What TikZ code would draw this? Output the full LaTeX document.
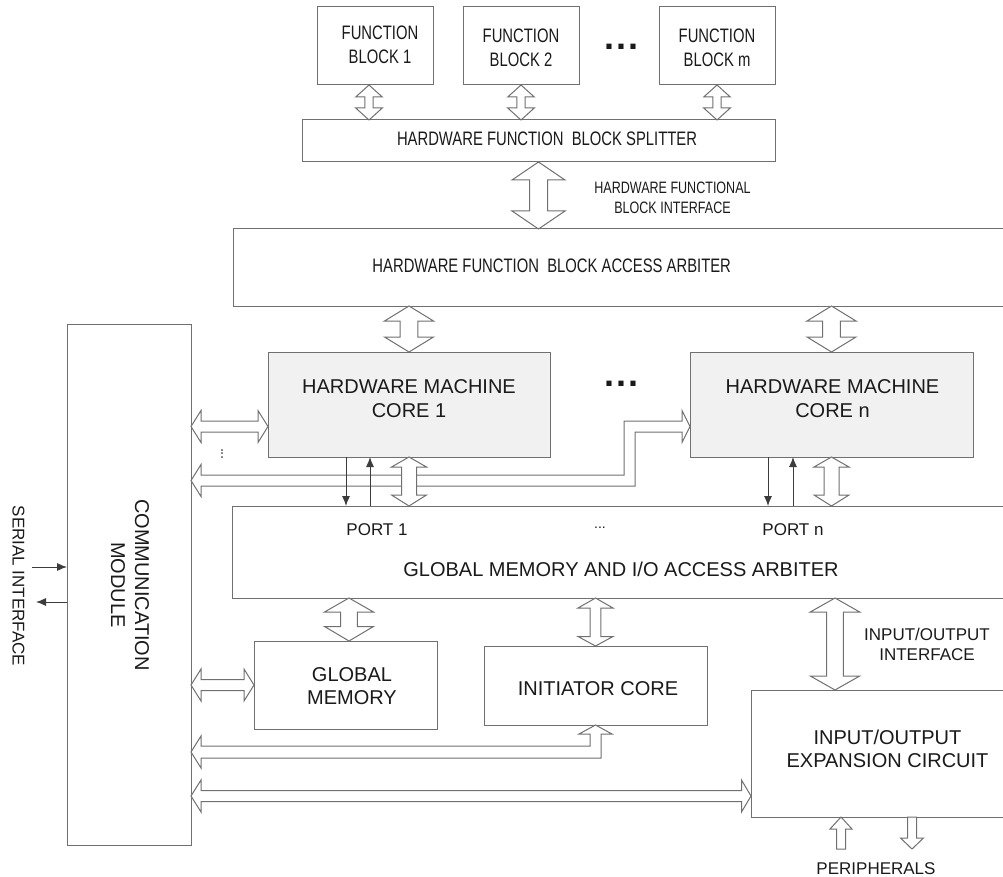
\documentclass[tikz,border=0pt]{standalone}
\usepackage{fontspec}
\setmainfont{Liberation Sans}
\newfontfamily\condfont[FakeStretch=0.76]{Liberation Sans}
\usetikzlibrary{calc,arrows.meta}
\definecolor{edge}{HTML}{707070}
\definecolor{ink}{HTML}{1A1A1A}
\definecolor{corefill}{HTML}{F1F1F1}
\tikzset{
  box/.style={draw=edge, line width=1pt, inner sep=0pt, outer sep=0pt, fill=white},
  corebox/.style={box, fill=corefill},
  txt/.style={inner sep=0pt, text=ink, align=center, font=\fontsize{20}{24.5}\selectfont},
  ctxt/.style={inner sep=0pt, text=ink, align=center, font=\condfont\fontsize{19.5}{24}\selectfont},
  stxt/.style={inner sep=0pt, text=ink, align=center, font=\fontsize{17}{20}\selectfont},
  barrow/.style={draw=edge, line width=1pt, fill=white, line join=miter},
  thinarr/.style={draw=ink!85, line width=0.9pt, -{Latex[length=10pt,width=8pt]}},
}
% vertical double block arrow: #1 top, #2 bottom, #3 head half width, #4 shaft half width, #5 top head length, #6 bottom head length
\newcommand\dvarrow[6]{%
  \draw[barrow] let \p1=(#1), \p2=(#2) in
    (\x1,\y1) -- (\x1+#3pt,\y1-#5pt) -- (\x1+#4pt,\y1-#5pt) -- (\x1+#4pt,\y2+#6pt)
    -- (\x1+#3pt,\y2+#6pt) -- (\x1,\y2) -- (\x1-#3pt,\y2+#6pt) -- (\x1-#4pt,\y2+#6pt)
    -- (\x1-#4pt,\y1-#5pt) -- (\x1-#3pt,\y1-#5pt) -- cycle;}
% horizontal double block arrow: #1 left, #2 right
\newcommand\dharrow[6]{%
  \draw[barrow] let \p1=(#1), \p2=(#2) in
    (\x1,\y1) -- (\x1+#5pt,\y1+#3pt) -- (\x1+#5pt,\y1+#4pt) -- (\x2-#6pt,\y1+#4pt)
    -- (\x2-#6pt,\y1+#3pt) -- (\x2,\y1) -- (\x2-#6pt,\y1-#3pt) -- (\x2-#6pt,\y1-#4pt)
    -- (\x1+#5pt,\y1-#4pt) -- (\x1+#5pt,\y1-#3pt) -- cycle;}
\begin{document}
\begin{tikzpicture}[x=1pt,y=-1pt]
\useasboundingbox (0,0) rectangle (1003,877);

% ---- boxes
\node[box, minimum width=116pt, minimum height=78pt] (fb1) at (375,46) {};
\node[box, minimum width=116pt, minimum height=78pt] (fb2) at (521,46) {};
\node[box, minimum width=116pt, minimum height=78pt] (fbm) at (717,46) {};
\node[box, minimum width=473pt, minimum height=42pt] (split) at (538.5,141) {};
\node[box, minimum width=773pt, minimum height=77pt] (aarb) at (619.5,267.5) {};
\node[box, minimum width=124pt, minimum height=521pt] (comm) at (129,584.5) {};
\node[corebox, minimum width=282pt, minimum height=105pt] (core1) at (409,404.5) {};
\node[corebox, minimum width=283pt, minimum height=105pt] (coren) at (831.5,404.5) {};
\node[box, minimum width=774pt, minimum height=92pt] (garb) at (619,552) {};
\node[box, minimum width=183pt, minimum height=88pt] (gmem) at (345.5,685) {};
\node[box, minimum width=223pt, minimum height=79pt] (init) at (595.5,685.5) {};
\node[box, minimum width=255pt, minimum height=127pt] (ioexp) at (878.5,753.5) {};

% ---- helper coordinates
\coordinate (a1) at ([xshift=-6pt]fb1.south);
\coordinate (h1R) at ([yshift=-22pt]core1.west);
\coordinate (b1R) at ([yshift=-22pt]coren.west);
\coordinate (b1L) at ($(comm.east |- core1.south)+(0,23.5)$);
\coordinate (b1B) at ($(coren.west)+(-60.5,0)$);
\coordinate (b2L) at ($(comm.east |- init.south)+(0,27)$);
\coordinate (h3R) at ([yshift=-42.5pt]ioexp.west);
\coordinate (gm) at ([xshift=3.5pt]gmem.north);
\coordinate (ioA) at ([xshift=84pt]ioexp.north west);
\coordinate (pinT) at ([xshift=90pt]ioexp.south west);
\coordinate (pinB) at ($(pinT)+(0,32)$);
\coordinate (poutT) at ([xshift=161pt]ioexp.south west);
\coordinate (poutB) at ($(poutT)+(0,32)$);
\coordinate (c1d) at ([xshift=-63pt]core1.south);
\coordinate (c1u) at ([xshift=-39pt]core1.south);
\coordinate (cnd) at ([xshift=-63.5pt]coren.south);
\coordinate (cnu) at ([xshift=-38.5pt]coren.south);
\coordinate (sin) at (32,567);
\coordinate (sout) at (36,602);

% ---- bent arrow: communication module <-> core n
\draw[barrow] let \p1=(b1L), \p2=(b1R), \p3=(b1B) in
  (\x1,\y1) -- (\x1+10pt,\y1+16pt) -- (\x1+10pt,\y1+5.5pt) -- (\x3-5.5pt,\y1+5.5pt)
  -- (\x3-5.5pt,\y2+5.5pt) -- (\x2-8pt,\y2+5.5pt) -- (\x2-8pt,\y2+16pt) -- (\x2,\y2)
  -- (\x2-8pt,\y2-16pt) -- (\x2-8pt,\y2-5.5pt) -- (\x3+5.5pt,\y2-5.5pt)
  -- (\x3+5.5pt,\y1-5.5pt) -- (\x1+10pt,\y1-5.5pt) -- (\x1+10pt,\y1-16pt) -- cycle;

% ---- bent arrow: communication module <-> initiator core
\draw[barrow] let \p1=(b2L), \p2=(init.south) in
  (\x1,\y1) -- (\x1+10pt,\y1+16pt) -- (\x1+10pt,\y1+6pt) -- (\x2-5.5pt,\y1+6pt)
  -- (\x2-5.5pt,\y2-9pt) -- (\x2-16.5pt,\y2-9pt) -- (\x2,\y2) -- (\x2+16.5pt,\y2-9pt)
  -- (\x2+5.5pt,\y2-9pt) -- (\x2+5.5pt,\y1-6pt) -- (\x1+10pt,\y1-6pt) -- (\x1+10pt,\y1-16pt) -- cycle;

% ---- horizontal double arrows
\dharrow{comm.east |- h1R}{h1R}{16}{5.5}{10}{10}
\dharrow{comm.east |- gmem.west}{gmem.west}{16}{5.5}{10}{10}
\dharrow{comm.east |- h3R}{h3R}{16}{5.5}{10}{9.5}

% ---- vertical double arrows
\dvarrow{a1}{a1 |- split.north}{13.3}{4.2}{12}{12}
\dvarrow{fb2.south}{fb2.south |- split.north}{13.3}{4.2}{12}{12}
\dvarrow{fbm.south}{fbm.south |- split.north}{13.3}{4.2}{12}{12}
\dvarrow{split.south}{split.south |- aarb.north}{26.5}{9}{18}{18}
\dvarrow{core1.north |- aarb.south}{core1.north}{24.5}{8.8}{15}{15}
\dvarrow{coren.north |- aarb.south}{coren.north}{24.5}{8.8}{15}{15}
\dvarrow{core1.south}{core1.south |- garb.north}{17.5}{7.5}{10}{11}
\dvarrow{coren.south}{coren.south |- garb.north}{17.5}{7.5}{10}{11}
\dvarrow{gm |- garb.south}{gm}{24.5}{8.3}{14}{14.5}
\dvarrow{init.north |- garb.south}{init.north}{17.5}{5.3}{10}{9.5}
\dvarrow{ioA |- garb.south}{ioA}{24.7}{8.3}{14}{14}

% ---- peripheral arrows
\draw[barrow] let \p1=(pinT), \p2=(pinB) in
  (\x1,\y1) -- (\x1+11pt,\y1-12pt) -- (\x1+4.5pt,\y1-12pt) -- (\x1+4.5pt,\y2)
  -- (\x1-4.5pt,\y2) -- (\x1-4.5pt,\y1-12pt) -- (\x1-11pt,\y1-12pt) -- cycle;
\draw[barrow] let \p1=(poutT), \p2=(poutB) in
  (\x1-4.5pt,\y1) -- (\x1+4.5pt,\y1) -- (\x1+4.5pt,\y2+11pt) -- (\x1+11.5pt,\y2+11pt)
  -- (\x1,\y2) -- (\x1-11.5pt,\y2+11pt) -- (\x1-4.5pt,\y2+11pt) -- cycle;

% ---- thin arrows
\draw[thinarr] (c1d) -- (c1d |- garb.north);
\draw[thinarr] (c1u |- garb.north) -- (c1u);
\draw[thinarr] (cnd) -- (cnd |- garb.north);
\draw[thinarr] (cnu |- garb.north) -- (cnu);
\draw[thinarr] (sin) -- (sin -| comm.west);
\draw[thinarr] (sout -| comm.west) -- (sout);

% ---- texts
\node[ctxt] (fb1t) at (380,44.7) {FUNCTION\\BLOCK 1};
\node[ctxt] (fb2t) at (521,48) {FUNCTION\\BLOCK 2};
\node[ctxt] (fbmt) at (717,48) {FUNCTION\\BLOCK m};
\node[inner sep=0pt, text=ink, font=\bfseries\fontsize{36}{36}\selectfont] (dots1) at (621.5,47) {.\kern2.5pt.\kern2.5pt.};
\node[ctxt] (splitt) at (547,138.7) {HARDWARE FUNCTION~~BLOCK SPLITTER};
\node[ctxt, font=\condfont\fontsize{16.5}{20}\selectfont] (hfbi) at (672.5,197.5) {HARDWARE FUNCTIONAL\\BLOCK INTERFACE};
\node[ctxt] (aarbt) at (551.7,265.5) {HARDWARE FUNCTION~~BLOCK ACCESS ARBITER};
\node[txt, rotate=-90, font=\fontsize{20}{24}\selectfont] (commt) at (130,585) {COMMUNICATION\\MODULE};
\node[stxt, rotate=-90] (serialt) at (18.5,586) {SERIAL INTERFACE};
\node[txt] (core1t) at (409,398.5) {HARDWARE MACHINE\\CORE 1};
\node[txt] (corent) at (832.5,398.5) {HARDWARE MACHINE\\CORE n};
\node[inner sep=0pt, text=ink, font=\bfseries\fontsize{36}{36}\selectfont] (dots2) at (621.5,384) {.\kern2.5pt.\kern2.5pt.};
\node[inner sep=0pt, text=ink, rotate=90, font=\fontsize{14}{14}\selectfont] (vdots) at (222,454) {...};
\node[stxt] (port1) at (377,529.5) {PORT 1};
\node[inner sep=0pt, text=ink, font=\fontsize{14}{14}\selectfont] (gdots) at (600,528) {...};
\node[stxt] (portn) at (793,529.5) {PORT n};
\node[txt] (garbt) at (621,569.2) {GLOBAL MEMORY AND I/O ACCESS ARBITER};
\node[txt, font=\fontsize{20}{23.5}\selectfont] (gmemt) at (352,686) {GLOBAL\\MEMORY};
\node[txt] (initt) at (598,689) {INITIATOR CORE};
\node[txt, font=\fontsize{20}{23.5}\selectfont] (ioexpt) at (887.5,749) {INPUT/OUTPUT\\EXPANSION CIRCUIT};
\node[stxt] (iointf) at (927,644) {INPUT/OUTPUT\\INTERFACE};
\node[stxt] (periph) at (876,868.5) {PERIPHERALS};
\end{tikzpicture}
\end{document}
